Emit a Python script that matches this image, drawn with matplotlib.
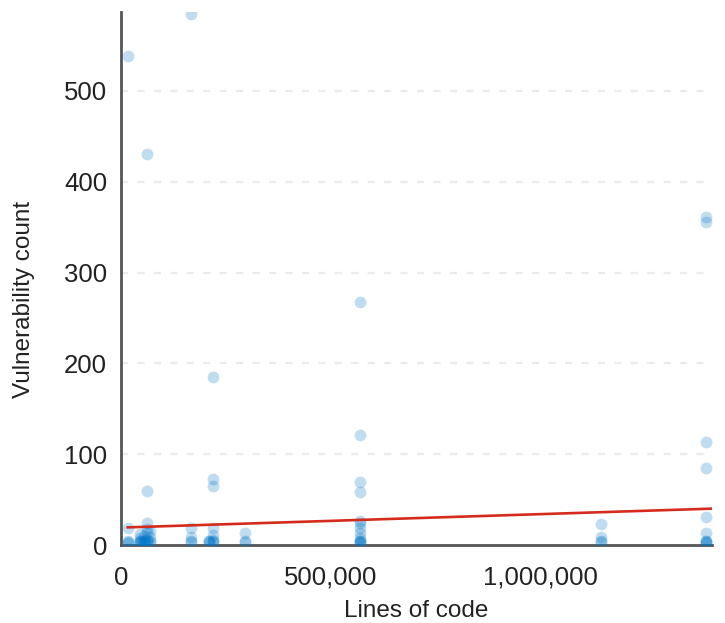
import numpy as np
import matplotlib.pyplot as plt

plt.rcParams['font.family'] = ['Liberation Sans', 'DejaVu Sans']

# lines of code per project (x) and vulnerability count (y)
lines_of_code = [
    16000, 16000, 16000, 16000, 16000,
    45000, 45000, 45000, 45000, 45000, 45000,
    55000, 55000, 55000, 55000,
    63000, 63000, 63000, 63000, 63000, 63000, 63000, 63000,
    70000, 70000, 70000, 70000,
    168000, 168000, 168000, 168000, 168000,
    210000, 210000, 210000,
    220000, 220000, 220000, 220000, 220000, 220000, 220000, 220000,
    296000, 296000, 296000,
    570000, 570000, 570000, 570000, 570000, 570000, 570000, 570000,
    570000, 570000, 570000, 570000, 570000,
    1145000, 1145000, 1145000, 1145000,
    1395000, 1395000, 1395000, 1395000, 1395000, 1395000, 1395000,
    1395000, 1395000, 1395000,
]
vuln_count = [
    538, 19, 5, 3, 2,
    12, 8, 5, 4, 3, 2,
    10, 6, 4, 3,
    431, 60, 24, 18, 14, 6, 4, 3,
    15, 9, 4, 3,
    585, 19, 9, 4, 3,
    5, 4, 3,
    185, 73, 65, 19, 11, 6, 4, 3,
    13, 5, 3,
    268, 121, 70, 58, 27, 24, 19, 13, 8, 5, 4, 3, 2,
    23, 9, 5, 3,
    361, 356, 113, 85, 31, 13, 5, 4, 3, 2,
]

# fitted trend line
trend_intercept = 19.3
trend_slope = 1.48e-5
trend_x = [16000, 1410000]

x_ticks = [0, 500000, 1000000]
y_ticks = [0, 100, 200, 300, 400, 500]

fig = plt.figure(figsize=(7.25, 6.23), dpi=100)
ax = fig.add_axes([0.167, 0.125, 0.815, 0.856])

ax.scatter(lines_of_code, vuln_count, s=72, color='#0077c8', alpha=0.25,
           linewidths=0, zorder=3)
tx = np.array(trend_x)
ax.plot(tx, trend_intercept + trend_slope * tx, color='#d52b1e', lw=1.9, zorder=4)

ax.set_xlim(0, 1410000)
ax.set_ylim(0, 587)
ax.set_xticks(x_ticks)
ax.set_xticklabels([f"{v:,}" for v in x_ticks])
ax.set_yticks(y_ticks)

for y in y_ticks[1:]:
    ax.axhline(y, color='#ebebeb', lw=1.6, ls=(0, (3.2, 4.2)), zorder=1)

for side in ['top', 'right']:
    ax.spines[side].set_visible(False)
for side in ['left', 'bottom']:
    ax.spines[side].set_color('#555555')
    ax.spines[side].set_linewidth(2.0)
    ax.spines[side].set_zorder(2)

ax.tick_params(axis='both', length=0, labelsize=18.5, colors='#222222')
ax.tick_params(axis='x', pad=15)
ax.tick_params(axis='y', pad=10)

ax.set_xlabel("Lines of code", fontsize=17.5, color='#222222', labelpad=7)
ax.set_ylabel("Vulnerability count", fontsize=17.5, color='#222222')
ax.yaxis.set_label_coords(-0.145, 0.46)

fig.savefig("out.png", dpi=100)
